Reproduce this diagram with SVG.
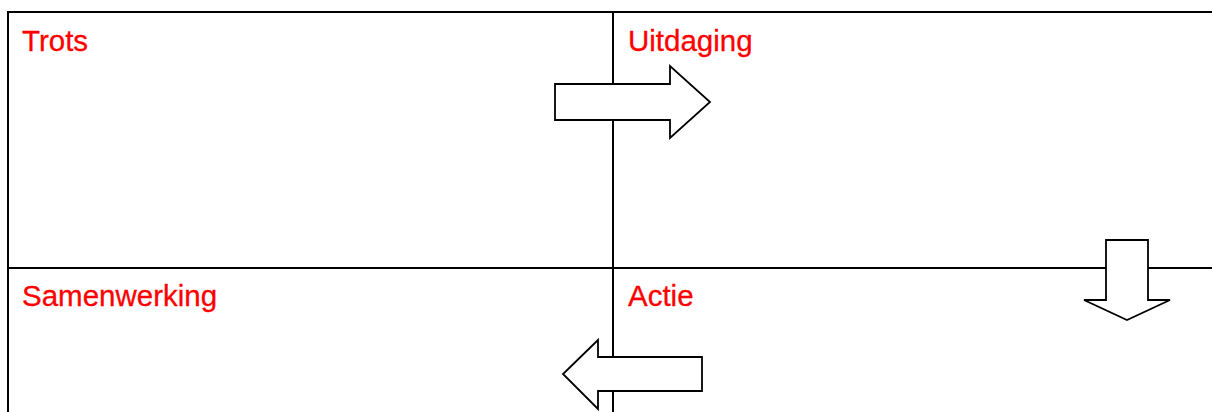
<svg xmlns="http://www.w3.org/2000/svg" width="1212" height="412" viewBox="0 0 1212 412">
<style>
.grid{stroke:#000;stroke-width:2;fill:none}
.lbl{font-family:"Liberation Sans",Arial,sans-serif;font-size:29.5px;fill:#ff0000;stroke:#ff0000;stroke-width:0.3}
.arr{fill:#fff;stroke:#000;stroke-width:1.8;stroke-linejoin:miter}
</style>
<rect width="1212" height="412" fill="#fff"/>
<g id="grid">
<line class="grid" x1="7" y1="12" x2="1212" y2="12"/>
<line class="grid" x1="8" y1="12" x2="8" y2="412"/>
<line class="grid" x1="613" y1="12" x2="613" y2="412"/>
<line class="grid" x1="8" y1="268" x2="1212" y2="268"/>
</g>
<g id="trots"><text class="lbl" x="22" y="51">Trots</text></g>
<g id="uitdaging"><text class="lbl" x="628" y="51">Uitdaging</text></g>
<g id="samenwerking"><text class="lbl" x="22" y="306">Samenwerking</text></g>
<g id="actie"><text class="lbl" x="628" y="306">Actie</text></g>
<g id="connectors">
<polygon class="arr" points="555,84 670,84 670,66 710,102 670,138 670,120 555,120"/>
<polygon class="arr" points="1106,240 1148,240 1148,300 1170,300 1127,320 1084,300 1106,300"/>
<polygon class="arr" points="702,357 598,357 598,340 563,374 598,409 598,391 702,391"/>
</g>
</svg>
